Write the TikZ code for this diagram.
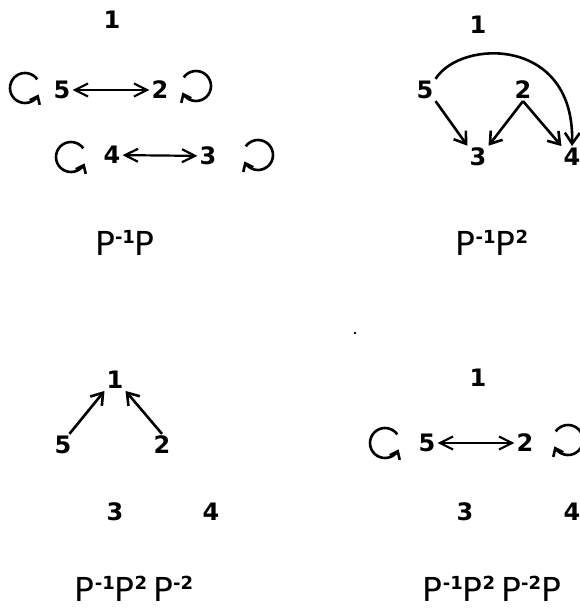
\documentclass[tikz,border=0pt]{standalone}
\usepackage{fontspec}
\setmainfont{DejaVu Sans}
\usetikzlibrary{arrows.meta,calc}
\newcommand\SupS[1]{\raisebox{12pt}{\fontsize{18}{18}\selectfont\bfseries #1}}
\begin{document}
\begin{tikzpicture}[x=1pt,y=-1pt,
  num/.style={font=\fontsize{24}{24}\selectfont\bfseries, inner sep=2pt},
  lab/.style={font=\fontsize{33}{33}\selectfont, inner sep=0pt},
  conn/.style={line width=2.6pt, -{Straight Barb[length=11pt,width=15pt,line width=2.6pt]}},
  dbl/.style={line width=2.2pt, {Straight Barb[length=13pt,width=13pt,line width=2.2pt]}-{Straight Barb[length=13pt,width=13pt,line width=2.2pt]}},
  loopar/.style={line width=2.6pt, -{Straight Barb[length=7pt,width=11pt,line width=2.6pt]}}]
\useasboundingbox (0,0) rectangle (580,610);
% Panel A
\node[num] (a1) at (112,20) {1};
\node[num] (a5) at (62,90) {5};
\node[num] (a2) at (160,90) {2};
\node[num] (a4) at (112,155) {4};
\node[num] (a3) at (208,156) {3};
\draw[dbl] (a5) -- (a2);
\draw[dbl] (a4) -- (a3);
\draw[loopar] ($(a5)+(-37,-2)$) ++(-35:15) arc[start angle=-35,end angle=-335,radius=15];
\draw[loopar] ($(a2)+(36,-4)$) ++(-145:15) arc[start angle=-145,end angle=155,radius=15];
\draw[loopar] ($(a4)+(-41,2)$) ++(-35:15) arc[start angle=-35,end angle=-335,radius=15];
\draw[loopar] ($(a3)+(50,-1)$) ++(-145:15) arc[start angle=-145,end angle=155,radius=15];
\node[lab] (la) at (125,243) {P\SupS{-1}P};
% Panel B
\node[num] (b1) at (478,25) {1};
\node[num] (b5) at (425,90) {5};
\node[num] (b2) at (523,90) {2};
\node[num] (b3) at (478,157) {3};
\node[num] (b4) at (572,157) {4};
\draw[conn] (b5.south east) -- (b3.north west);
\draw[conn] (b2.south) -- (b3.north east);
\draw[conn] (b2.south) -- (b4.north west);
\draw[conn] (b5.north east) .. controls +(25,-40) and +(3,-110) .. (b4.north);
\node[lab] (lb) at (492,243) {P\SupS{-1}P\SupS{2}};
% Panel C
\node[num] (c1) at (115,380) {1};
\node[num] (c5) at (63,445) {5};
\node[num] (c2) at (162,445) {2};
\node[num] (c3) at (115,512) {3};
\node[num] (c4) at (211,512) {4};
\draw[conn] (c5.60) -- (c1.south west);
\draw[conn] (c2.north) -- (c1.south east);
\node[lab] (lc) at (134,589) {P\SupS{-1}P\SupS{2}\hspace{6pt}P\SupS{-2}};
% Panel D
\fill (355,333) circle[radius=1.4];
\node[num] (d1) at (478,378) {1};
\node[num] (d5) at (427,443) {5};
\node[num] (d2) at (525,443) {2};
\node[num] (d3) at (465,512) {3};
\node[num] (d4) at (572,512) {4};
\draw[dbl] (d5) -- (d2);
\draw[loopar] ($(d5)+(-42,0)$) ++(-35:15) arc[start angle=-35,end angle=-335,radius=15];
\draw[loopar] ($(d2)+(43,-3)$) ++(-145:15) arc[start angle=-145,end angle=155,radius=15];
\node[lab] (ld) at (492,589) {P\SupS{-1}P\SupS{2}\hspace{6pt}P\SupS{-2}P};
\end{tikzpicture}
\end{document}
